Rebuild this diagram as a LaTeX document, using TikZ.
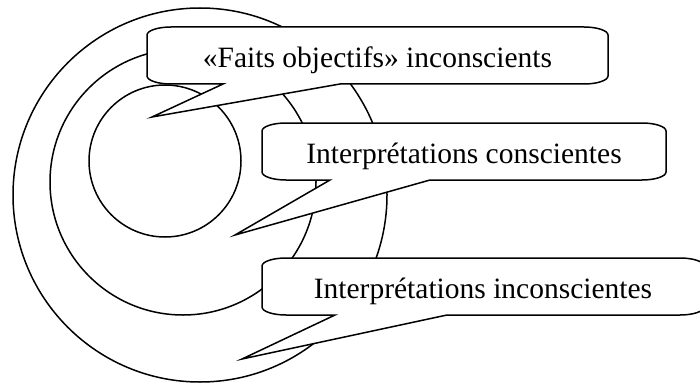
\documentclass[tikz,border=0pt]{standalone}
\usepackage{fontspec}
\setmainfont{Liberation Serif}
\begin{document}
% corner radii of the speech bubbles
\def\brx{24}
\def\bry{8}
% rounded box with a wedge pointer: left, top, right, bottom, wedge start, wedge end, tip
\newcommand{\bubbleshape}[7]{%
  \draw[bubble] (#1,{#2+\bry}) .. controls (#1,{#2+0.45*\bry}) and ({#1+0.45*\brx},#2) .. ({#1+\brx},#2)
  -- ({#3-\brx},#2) .. controls ({#3-0.45*\brx},#2) and (#3,{#2+0.45*\bry}) .. (#3,{#2+\bry})
  -- (#3,{#4-\bry}) .. controls (#3,{#4-0.45*\bry}) and ({#3-0.45*\brx},#4) .. ({#3-\brx},#4)
  -- (#6,#4) -- (#7) -- (#5,#4)
  -- ({#1+\brx},#4) .. controls ({#1+0.45*\brx},#4) and (#1,{#4-0.45*\bry}) .. (#1,{#4-\bry})
  -- cycle;}
\begin{tikzpicture}[x=1pt,y=-1pt,
  ring/.style={circle,draw,line width=1.5pt,inner sep=0pt},
  bubble/.style={draw,fill=white,line width=1.5pt,line join=miter},
  caption/.style={anchor=base,font=\fontsize{29.5}{34}\selectfont,inner sep=0pt}]
\useasboundingbox (0,0) rectangle (700,385);
% nested circles
\node[ring,minimum size=374pt] (outer) at (200,195) {};
\node[ring,minimum size=266pt] (middle) at (183,182) {};
\node[ring,minimum size=152pt] (inner) at (165,161) {};
% pointer tips
\coordinate (tip1) at (152,117);
\coordinate (tip2) at (235,235);
\coordinate (tip3) at (242,359);
% speech bubbles
\bubbleshape{147}{27}{608}{84}{223}{340}{tip1}
\bubbleshape{262}{123}{666}{180}{330}{430}{tip2}
\bubbleshape{262}{258}{704}{315}{335}{447}{tip3}
\node[caption] (faits) at (377.5,67.5) {«Faits objectifs» inconscients};
\node[caption] (conscientes) at (464,163.5) {Interprétations conscientes};
\node[caption] (inconscientes) at (483,298.5) {Interprétations inconscientes};
\end{tikzpicture}
\end{document}
